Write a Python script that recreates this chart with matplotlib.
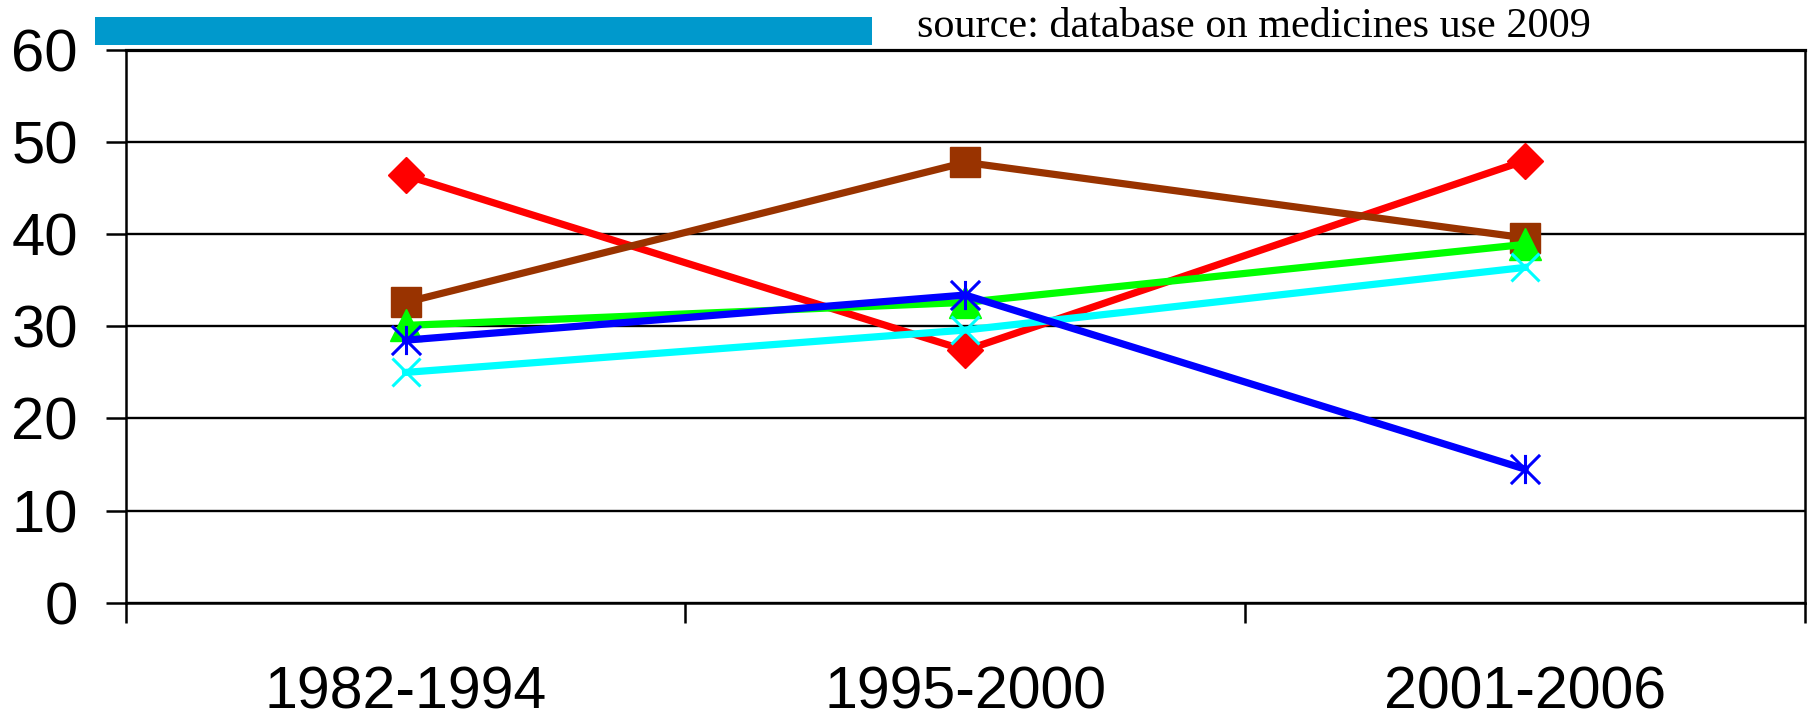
import matplotlib
matplotlib.use("Agg")
import matplotlib.pyplot as plt
from matplotlib.path import Path
from matplotlib.patches import Rectangle

# Periods and share per series (%)
periods = ["1982-1994", "1995-2000", "2001-2006"]
series_red = [46.4, 27.4, 48.0]
series_brown = [32.6, 47.8, 39.6]
series_green = [30.1, 32.6, 38.9]
series_cyan = [25.0, 29.6, 36.4]
series_blue = [28.5, 33.4, 14.5]
y_ticks = [0, 10, 20, 30, 40, 50, 60]

# Excel-style "star": vertical bar crossed by an X
star = Path(
    [(0, -1), (0, 1), (-1, -1), (1, 1), (-1, 1), (1, -1)],
    [Path.MOVETO, Path.LINETO, Path.MOVETO, Path.LINETO, Path.MOVETO, Path.LINETO],
)

fig = plt.figure(figsize=(18.12, 7.2), dpi=100)
ax = fig.add_axes([125.7 / 1812, 1 - 602.7 / 720, (1805 - 125.7) / 1812, (602.7 - 50) / 720])

xs = [i + 0.5 for i in range(len(periods))]
lw = 5.2
ax.plot(xs, series_red, color="#FF0000", lw=lw, marker="D", ms=18, mec="#FF0000", zorder=3)
ax.plot(xs, series_brown, color="#993300", lw=lw, marker="s", ms=21, mec="#993300", zorder=3)
ax.plot(xs, series_green, color="#00FF00", lw=lw, marker="^", ms=23, mec="#00FF00", zorder=3)
ax.plot(xs, series_cyan, color="#00FFFF", lw=lw, marker="x", ms=20, mew=2.2, mec="#00FFFF", zorder=3)
ax.plot(xs, series_blue, color="#0000FF", lw=lw, marker=star, ms=21, mew=2.2, mec="#0000FF", zorder=3)

ax.set_xlim(0, len(periods))
ax.set_ylim(0, 60)

ax.set_yticks(y_ticks)
ax.set_yticklabels([str(v) for v in y_ticks])
ax.yaxis.grid(True, color="black", lw=1.7, zorder=1)
ax.set_axisbelow(True)

ax.set_xticks(range(len(periods) + 1))
ax.set_xticklabels([])
ax.set_xticks(xs, minor=True)
ax.set_xticklabels(periods, minor=True)

ax.tick_params(axis="y", which="major", direction="out", length=14.4, width=1.8,
               pad=20, labelsize=43, colors="black")
ax.tick_params(axis="x", which="major", direction="out", length=14.4, width=1.8)
ax.tick_params(axis="x", which="minor", length=0, pad=45, labelsize=42.5)
for lab in ax.get_xticklabels(minor=True) + ax.get_yticklabels():
    lab.set_fontfamily("Liberation Sans")

for side in ["left", "right", "bottom", "top"]:
    ax.spines[side].set_linewidth(1.8)
    ax.spines[side].set_color("black")
ax.spines["top"].set_linewidth(2.3)

# Header band and source note
fig.add_artist(Rectangle((95 / 1812, 1 - 45 / 720), (872 - 95) / 1812, 28 / 720,
                         transform=fig.transFigure, color="#0099CC", lw=0))
fig.text(917 / 1812, 1 - 37 / 720, "source: database on medicines use 2009",
         fontfamily="Liberation Serif", fontsize=30.4, va="baseline", ha="left")

fig.savefig("out.png", dpi=100)
